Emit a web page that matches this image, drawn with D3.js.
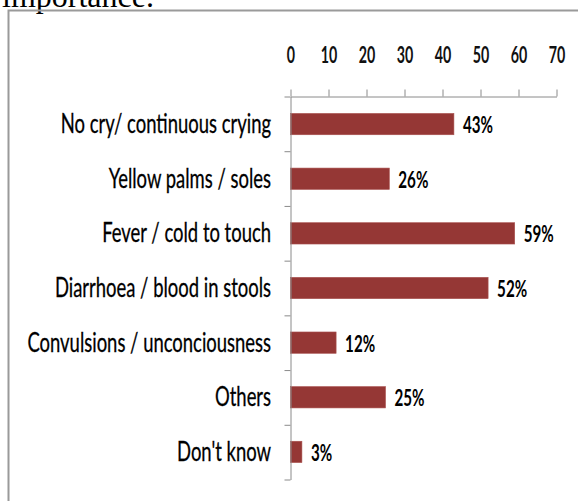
<!DOCTYPE html>
<html>
<head>
<meta charset="utf-8">
<script src="https://cdn.jsdelivr.net/npm/d3@7"></script>
<style>
  html, body { margin: 0; padding: 0; background: #fff; }
  svg { display: block; }
</style>
</head>
<body>
<svg id="chart" width="578" height="501"></svg>
<script>
// Danger signs recognised by respondents (% of mentions)
const categories = [
  "No cry/ continuous crying",
  "Yellow palms / soles",
  "Fever / cold to touch",
  "Diarrhoea / blood in stools",
  "Convulsions / unconciousness",
  "Others",
  "Don't know"
];
const values = [43, 26, 59, 52, 12, 25, 3];
const xTicks = [0, 10, 20, 30, 40, 50, 60, 70];

const svg = d3.select("#chart");
const font = "Lato, 'Open Sans', sans-serif";
const axisColor = "#8a8a8a";
const barColor = "#953735";

// Page text cut off above the chart frame
svg.append("text")
  .attr("x", 2).attr("y", 7)
  .attr("font-family", "'Liberation Serif', 'Times New Roman', serif")
  .attr("font-size", 32)
  .attr("fill", "#000")
  .text("importance.");

// Chart frame (open on the right and bottom)
svg.append("path")
  .attr("d", "M8.5,501 L8.5,10.5 L578,10.5")
  .attr("fill", "none")
  .attr("stroke", "#9a9a9a")
  .attr("stroke-width", 2);

const x = d3.scaleLinear().domain([0, 70]).range([290.5, 556.5]);
const plotTop = 96.5, plotBottom = 479.5;
const y = d3.scaleBand()
  .domain(categories)
  .range([plotTop, plotBottom])
  .paddingInner(0.61)
  .paddingOuter(0.31);

// Bars
svg.append("g").selectAll("rect")
  .data(values)
  .join("rect")
  .attr("x", x(0))
  .attr("y", (d, i) => y(categories[i]))
  .attr("width", d => x(d) - x(0))
  .attr("height", y.bandwidth())
  .attr("fill", barColor)
  .attr("stroke", "#a8504e")
  .attr("stroke-width", 0.6);

// Top value axis
const xAxis = svg.append("g")
  .attr("transform", `translate(0,${plotTop})`)
  .call(d3.axisTop(x).tickValues(xTicks).tickSize(7).tickSizeOuter(0).tickPadding(27));
xAxis.select(".domain").attr("stroke", axisColor);
xAxis.selectAll(".tick line").attr("stroke", axisColor);
xAxis.selectAll(".tick text")
  .attr("font-family", font)
  .attr("font-size", 23)
  .attr("font-weight", 700)
  .attr("fill", "#111")
  .attr("transform", "scale(0.62,1)");

// Left category axis, ticks on the band boundaries
const bounds = d3.scaleLinear().domain([0, categories.length]).range([plotTop, plotBottom]);
const yAxis = svg.append("g")
  .attr("transform", `translate(${x(0)},0)`)
  .call(d3.axisLeft(bounds).ticks(categories.length).tickFormat("").tickSize(6).tickSizeOuter(0));
yAxis.select(".domain").attr("stroke", axisColor);
yAxis.selectAll(".tick line").attr("stroke", axisColor);

// Category labels
svg.append("g").selectAll("g")
  .data(categories)
  .join("g")
  .attr("transform", d => `translate(271,${y(d) + y.bandwidth() / 2 + 9})`)
  .append("text")
  .attr("text-anchor", "end")
  .attr("font-family", font)
  .attr("font-size", 27)
  .attr("fill", "#000")
  .attr("stroke", "#000")
  .attr("stroke-width", 0.3)
  .attr("transform", "scale(0.683,1)")
  .text(d => d);

// Value labels
svg.append("g").selectAll("g")
  .data(values)
  .join("g")
  .attr("transform", (d, i) => `translate(${x(d) + 9},${y(categories[i]) + y.bandwidth() / 2 + 9})`)
  .append("text")
  .attr("font-family", font)
  .attr("font-size", 23)
  .attr("font-weight", 700)
  .attr("fill", "#000")
  .attr("transform", "scale(0.66,1)")
  .text(d => d + "%");
</script>
</body>
</html>
